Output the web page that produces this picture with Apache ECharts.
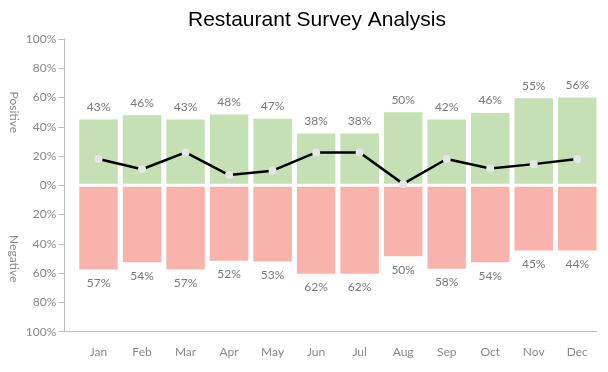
<!DOCTYPE html>
<html>
<head>
<meta charset="utf-8">
<script src="https://cdn.jsdelivr.net/npm/echarts@6/dist/echarts.min.js"></script>
<style>html,body{margin:0;padding:0;background:#fff}#c{width:608px;height:372px}</style>
</head>
<body>
<div id="c"></div>
<script>
const months = ['Jan','Feb','Mar','Apr','May','Jun','Jul','Aug','Sep','Oct','Nov','Dec'];
const positive = [46, 49, 46, 49.5, 46.5, 36.5, 36.5, 51, 46, 50.5, 60.5, 61];
const negative = [58.5, 53.5, 58.5, 52.5, 53, 61.5, 61.5, 49.5, 58, 53.5, 45.5, 45.5];
const posLabels = ['43%','46%','43%','48%','47%','38%','38%','50%','42%','46%','55%','56%'];
const negLabels = ['57%','54%','57%','52%','53%','62%','62%','50%','58%','54%','45%','44%'];
const net = [18, 11, 22.5, 7, 10, 22.5, 22.5, 1, 18, 11.5, 14.5, 18];

const FONT = 'Lato';
const GREY = '#8a8a8a';
const AXIS = '#bdbdbd';

const chart = echarts.init(document.getElementById('c'), null, {renderer: 'canvas'});
chart.setOption({
  animation: false,
  title: {
    text: 'Restaurant Survey Analysis',
    left: 188, top: 10, padding: 0,
    textStyle: {fontFamily: 'Liberation Sans', fontSize: 21, fontWeight: 'normal', color: '#000'}
  },
  grid: [
    {left: 76.75, right: 9, top: 39, bottom: 40.3},
    {left: 64.3, right: 11.3, top: 39, bottom: 40.3},
    {left: 64.3, right: 11.3, top: 39, height: 146.7},
    {left: 64.3, right: 11.3, top: 185.7, bottom: 40.3}
  ],
  xAxis: [
    {
      type: 'category', data: months, gridIndex: 0,
      axisLine: {show: false},
      axisTick: {show: true, alignWithLabel: true, length: 5, lineStyle: {color: AXIS}},
      axisLabel: {color: GREY, fontFamily: FONT, fontSize: 12, margin: 14}
    },
    {type: 'value', gridIndex: 1, min: 0, max: 1, axisLine: {show: true, lineStyle: {color: AXIS}},
     axisTick: {show: false}, axisLabel: {show: false}, splitLine: {show: false}},
    {type: 'value', gridIndex: 2, show: false},
    {type: 'value', gridIndex: 3, show: false}
  ],
  yAxis: [
    {
      type: 'value', gridIndex: 0, min: -100, max: 100, interval: 20, offset: 12.45,
      axisLine: {show: true, lineStyle: {color: AXIS}},
      axisTick: {show: true, length: 6, lineStyle: {color: AXIS}},
      splitLine: {show: false},
      axisLabel: {color: GREY, fontFamily: FONT, fontSize: 12, margin: 8,
        formatter: v => Math.abs(v) + '%'}
    },
    {type: 'value', gridIndex: 1, show: false},
    {type: 'value', gridIndex: 2, name: 'Positive', nameLocation: 'middle', nameRotate: -90, nameGap: 46,
     nameTextStyle: {color: GREY, fontFamily: FONT, fontSize: 12},
     axisLine: {show: false}, axisTick: {show: false}, axisLabel: {show: false}, splitLine: {show: false}},
    {type: 'value', gridIndex: 3, name: 'Negative', nameLocation: 'middle', nameRotate: -90, nameGap: 46,
     nameTextStyle: {color: GREY, fontFamily: FONT, fontSize: 12},
     axisLine: {show: false}, axisTick: {show: false}, axisLabel: {show: false}, splitLine: {show: false}}
  ],
  series: [
    {
      name: 'Positive', type: 'bar', stack: 'total', barWidth: 41.5,
      data: positive,
      itemStyle: {color: '#c4e0b4', borderColor: '#fff', borderWidth: 1.5},
      label: {show: true, position: 'top', distance: 5, color: '#7a7a7a', fontFamily: FONT, fontSize: 12,
        formatter: p => posLabels[p.dataIndex]}
    },
    {
      name: 'Negative', type: 'bar', stack: 'total', barWidth: 41.5,
      data: negative.map(v => -v),
      itemStyle: {color: '#f8b4ac', borderColor: '#fff', borderWidth: 1.5},
      label: {show: true, position: 'bottom', distance: 6, color: '#7a7a7a', fontFamily: FONT, fontSize: 12,
        formatter: p => negLabels[p.dataIndex]}
    },
    {
      name: 'Net', type: 'line', data: net, z: 5,
      symbol: 'circle', symbolSize: 8,
      itemStyle: {color: '#e6e6e6'},
      lineStyle: {color: '#000', width: 2.5}
    }
  ]
});
</script>
</body>
</html>
